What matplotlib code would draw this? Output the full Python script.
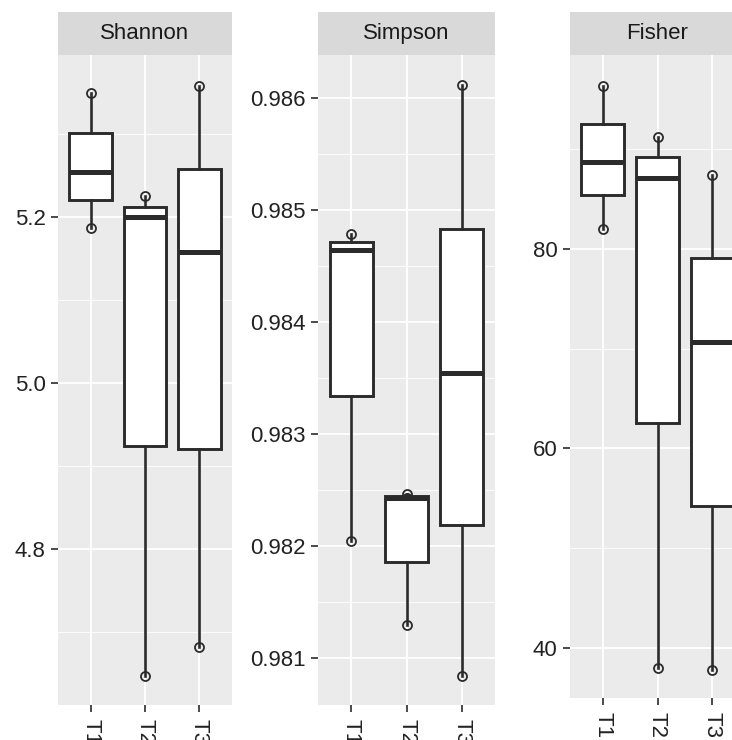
import matplotlib.pyplot as plt
import numpy as np

plt.rcParams['font.family'] = ['Liberation Sans', 'DejaVu Sans']

groups = ['T1', 'T2', 'T3']
metrics = ['Shannon', 'Simpson', 'Fisher']

# three replicate values per group
shannon = [[5.186, 5.254, 5.349],
           [4.647, 5.200, 5.225],
           [4.682, 5.158, 5.358]]
simpson = [[0.98204, 0.98464, 0.98478],
           [0.98129, 0.98243, 0.98246],
           [0.98084, 0.98354, 0.98611]]
fisher = [[82.0, 88.7, 96.3],
          [38.0, 87.1, 91.2],
          [37.8, 70.7, 87.4]]

values = [shannon, simpson, fisher]
ylims = [(4.612, 5.395), (0.98058, 0.98638), (35.0, 99.4)]
major_ticks = [[4.8, 5.0, 5.2],
               [0.981, 0.982, 0.983, 0.984, 0.985, 0.986],
               [40, 60, 80]]
minor_ticks = [[4.7, 4.9, 5.1, 5.3],
               [0.9815, 0.9825, 0.9835, 0.9845, 0.9855],
               [50, 70, 90]]
tick_fmt = ['{:.1f}', '{:.3f}', '{:.0f}']

W, H = 732, 740
# panel boxes in pixels: left, right, top, bottom
panels_px = [(58, 232, 55, 705), (318, 495, 55, 705), (570, 745, 55, 698)]

fig = plt.figure(figsize=(W / 100, H / 100), dpi=100)

line_c = '#2b2b2b'
for i, (l, r, t, b) in enumerate(panels_px):
    ax = fig.add_axes([l / W, 1 - b / H, (r - l) / W, (b - t) / H])
    ax.set_facecolor('#EBEBEB')
    data = values[i]
    pos = np.arange(1, len(groups) + 1)

    for j, d in enumerate(data):
        ax.plot([pos[j]] * len(d), d, 'o', ms=6.5, mfc='none', mec=line_c,
                mew=1.3, zorder=2)

    ax.boxplot(data, positions=pos, widths=0.78, whis=(0, 100),
               patch_artist=True, showcaps=False, showfliers=False,
               boxprops=dict(facecolor='white', edgecolor=line_c, linewidth=2.1),
               medianprops=dict(color=line_c, linewidth=3.6),
               whiskerprops=dict(color=line_c, linewidth=1.9),
               zorder=3)

    ax.set_xlim(0.4, 3.6)
    ax.set_ylim(*ylims[i])
    ax.set_xticks(pos)
    ax.set_xticklabels(groups, rotation=270)
    ax.set_yticks(major_ticks[i])
    ax.set_yticklabels([tick_fmt[i].format(v) for v in major_ticks[i]])
    ax.set_yticks(minor_ticks[i], minor=True)
    ax.grid(True, which='major', color='white', linewidth=1.3, zorder=0)
    ax.grid(True, which='minor', axis='y', color='white', linewidth=0.6, zorder=0)
    ax.set_axisbelow(True)
    for s in ax.spines.values():
        s.set_visible(False)
    ax.tick_params(axis='both', which='major', length=5, width=1.2,
                   color=line_c, labelcolor='#222222', labelsize=16)
    ax.tick_params(axis='y', which='major', pad=4)
    ax.tick_params(axis='x', which='major', pad=5)
    ax.tick_params(axis='y', which='minor', length=0)

    # facet strip
    sax = fig.add_axes([l / W, 1 - t / H, (r - l) / W, 43 / H])
    sax.set_facecolor('#D9D9D9')
    sax.set_xticks([])
    sax.set_yticks([])
    for s in sax.spines.values():
        s.set_visible(False)
    sax.text(0.5, 0.5, metrics[i], ha='center', va='center', fontsize=16,
             color='#1A1A1A', transform=sax.transAxes)

fig.savefig('out.png', dpi=100)
